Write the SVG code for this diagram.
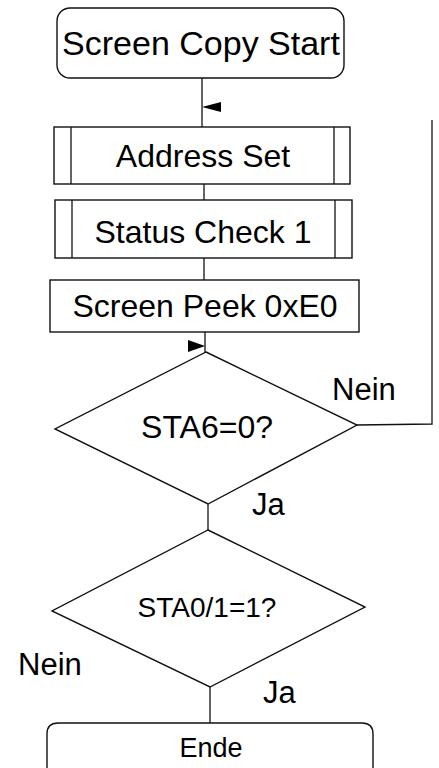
<svg xmlns="http://www.w3.org/2000/svg" width="439" height="768" viewBox="0 0 439 768">
<style>
.s{fill:#fff;stroke:#111;stroke-width:1.4}
.c{fill:none;stroke:#111;stroke-width:1.3}
.t{font-family:"Liberation Sans",Arial,sans-serif;fill:#000;text-anchor:middle}
.l{font-family:"Liberation Sans",Arial,sans-serif;fill:#000}
.a{fill:#000}
</style>
<rect width="439" height="768" fill="#fff"/>
<g id="connectors">
<line class="c" x1="202" y1="78" x2="202" y2="127"/>
<polygon class="a" points="202,107 221,102 221,112"/>
<line class="c" x1="204" y1="184" x2="204" y2="200"/>
<line class="c" x1="204" y1="258" x2="204" y2="280"/>
<line class="c" x1="205" y1="332" x2="205" y2="352"/>
<polygon class="a" points="205,346 188,340 188,352"/>
<polyline class="c" points="357,425 432,424 432,120"/>
<line class="c" x1="208" y1="504" x2="208" y2="530"/>
<line class="c" x1="210" y1="687" x2="210" y2="723"/>
<text class="l" x="332" y="400" font-size="31">Nein</text>
<text class="l" x="252" y="515" font-size="31">Ja</text>
<text class="l" x="18" y="675" font-size="31">Nein</text>
<text class="l" x="263" y="703" font-size="31">Ja</text>
</g>
<g id="start">
<rect class="s" x="57" y="8" width="287" height="70" rx="13"/>
<text class="t" x="201" y="55" font-size="34">Screen Copy Start</text>
</g>
<g id="address">
<rect class="s" x="54" y="127" width="296" height="57"/>
<line class="c" x1="71" y1="127" x2="71" y2="184"/>
<line class="c" x1="334" y1="127" x2="334" y2="184"/>
<text class="t" x="203" y="167" font-size="32">Address Set</text>
</g>
<g id="status">
<rect class="s" x="55" y="200" width="297" height="58"/>
<line class="c" x1="72" y1="200" x2="72" y2="258"/>
<line class="c" x1="335" y1="200" x2="335" y2="258"/>
<text class="t" x="203" y="243" font-size="32">Status Check 1</text>
</g>
<g id="peek">
<rect class="s" x="50" y="280" width="309" height="52"/>
<text class="t" x="205" y="317" font-size="32">Screen Peek 0xE0</text>
</g>
<g id="sta6">
<polygon class="s" points="206,352 357,425 208,504 55,429"/>
<text class="t" x="207" y="438" font-size="32">STA6=0?</text>
</g>
<g id="sta01">
<polygon class="s" points="208,530 365,607 210,687 52,611"/>
<text class="t" x="207" y="617" font-size="28">STA0/1=1?</text>
</g>
<g id="ende">
<path class="s" d="M47,775 V734 Q47,723 58,723 H362 Q373,723 373,734 V775"/>
<text class="t" x="211" y="757" font-size="27">Ende</text>
</g>
</svg>
